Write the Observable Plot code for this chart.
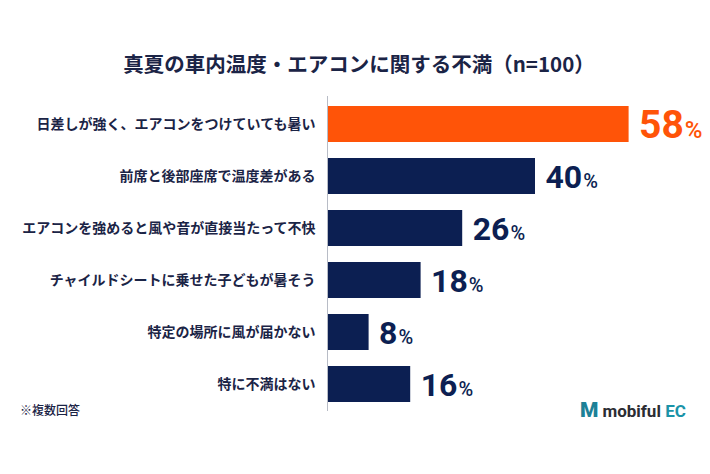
<!DOCTYPE html>
<html><head><meta charset="utf-8">
<script src="https://cdn.jsdelivr.net/npm/d3@7"></script>
<script src="https://cdn.jsdelivr.net/npm/@observablehq/plot@0.6"></script>
<style>
body{margin:0;background:#fff;}
#wrap{position:relative;width:710px;height:474px;font-family:"Noto Sans CJK JP",sans-serif;overflow:hidden;}
#chart{position:absolute;left:0;top:0;}
#title{position:absolute;left:0;top:49px;width:710px;text-align:center;font-size:20.5px;line-height:28px;font-weight:700;color:#1b2446;padding-left:8px;box-sizing:border-box;}
#note{position:absolute;left:20px;top:401px;font-size:12px;line-height:18px;color:#1b2446;font-weight:500;}
#logo{position:absolute;left:580px;top:399px;font-family:Roboto,sans-serif;font-weight:700;font-size:17px;line-height:22px;white-space:nowrap;}
#logo .m{color:#1d8197;font-size:21px;font-weight:900;margin-right:4px;}
#logo .t{color:#2b2d33;}
#logo .ec{color:#1a93a8;}
</style></head><body>
<div id="wrap">
<div id="chart"></div>
<div id="title">真夏の車内温度・エアコンに関する不満（n=100）</div>
<div id="note">※複数回答</div>
<div id="logo"><span class="m">M</span><span class="t">mobiful </span><span class="ec">EC</span></div>
</div>
<script>
const labels = [
  "日差しが強く、エアコンをつけていても暑い",
  "前席と後部座席で温度差がある",
  "エアコンを強めると風や音が直接当たって不快",
  "チャイルドシートに乗せた子どもが暑そう",
  "特定の場所に風が届かない",
  "特に不満はない"
];
const values = [58, 40, 26, 18, 8, 16];
const unit = "%";
const highlightIndex = 0;

const ORANGE = "#ff5408";
const NAVY = "#0c1f52";
const data = labels.map((label, i) => ({label, value: values[i], i}));

const chart = Plot.plot({
  width: 710,
  height: 474,
  marginTop: 96,
  marginBottom: 63,
  marginLeft: 327,
  marginRight: 19,
  style: {background: "transparent", fontFamily: "'Noto Sans CJK JP', sans-serif"},
  x: {domain: [0, 70], axis: null},
  y: {domain: labels, paddingInner: 0.31, paddingOuter: 0.155, axis: null},
  marks: [
    Plot.barX(data, {x: "value", y: "label", fill: d => d.i === highlightIndex ? ORANGE : NAVY}),
    Plot.ruleX([0], {stroke: "#b8bcc6", strokeWidth: 1}),
    Plot.text(data, {
      x: 0, y: "label", text: "label", textAnchor: "end", dx: -12,
      fontSize: 14, fontWeight: 700, fill: "#1b2446"
    }),
    Plot.text(data, {
      x: "value", y: "label", text: d => String(d.value), textAnchor: "start",
      dx: 10, dy: 1,
      fontSize: d => d.i === highlightIndex ? 39 : 32,
      fontWeight: 700,
      fill: d => d.i === highlightIndex ? ORANGE : NAVY,
      fontFamily: "Roboto, sans-serif",
      className: "vals"
    })
  ]
});
document.getElementById("chart").appendChild(chart);
d3.select(chart).selectAll(".vals text").each(function() {
  const t = d3.select(this);
  const fs = parseFloat(t.attr("font-size")) || 32;
  t.append("tspan").attr("font-size", Math.round(fs * 0.62)).attr("font-weight", 500).attr("dx", 1).text(unit);
});
</script>
</body></html>
